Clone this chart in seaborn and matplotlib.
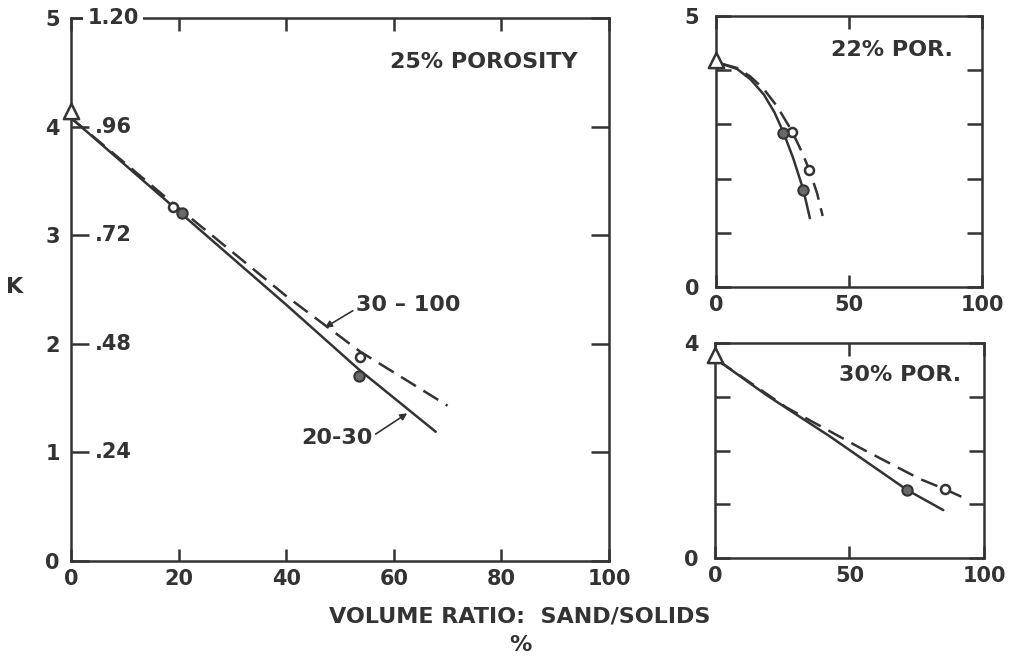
import matplotlib
matplotlib.use("Agg")
import matplotlib.pyplot as plt
import matplotlib.transforms as mtransforms
import seaborn as sns

# ---------------- data ----------------
# 25% porosity (main panel)
main_solid_x = [0, 20, 40, 53.6, 67.8]
main_solid_k = [4.08, 3.22, 2.36, 1.76, 1.19]
main_dash_x = [0, 20, 40, 53.7, 70]
main_dash_k = [4.08, 3.25, 2.44, 1.93, 1.43]
main_open_x = [19.0, 53.7]
main_open_k = [3.26, 1.88]
main_fill_x = [20.6, 53.6]
main_fill_k = [3.20, 1.70]
main_tri_x = [0]
main_tri_k = [4.14]

# 22% porosity (top right)
p22_solid_x = [2, 8, 13, 18, 22, 25.3, 29, 32.8, 35.3]
p22_solid_k = [4.12, 4.02, 3.83, 3.55, 3.22, 2.86, 2.38, 1.80, 1.27]
p22_dash_x = [2, 8, 13, 18, 23, 28.5, 32, 35.1, 38, 40.1]
p22_dash_k = [4.12, 4.04, 3.88, 3.65, 3.33, 2.88, 2.52, 2.16, 1.73, 1.31]
p22_open_x = [28.5, 35.1]
p22_open_k = [2.86, 2.16]
p22_fill_x = [25.3, 32.8]
p22_fill_k = [2.84, 1.79]
p22_tri_x = [0]
p22_tri_k = [4.19]

# 30% porosity (bottom right)
p30_solid_x = [1, 19.2, 42.8, 71.3, 84.9]
p30_solid_k = [3.68, 3.03, 2.26, 1.27, 0.89]
p30_dash_x = [1, 26.6, 54.3, 76.2, 85.5, 94.2]
p30_dash_k = [3.68, 2.80, 2.04, 1.47, 1.28, 1.08]
p30_open_x = [85.5]
p30_open_k = [1.28]
p30_fill_x = [71.3]
p30_fill_k = [1.27]
p30_tri_x = [0]
p30_tri_k = [3.78]

main_xticks = [0, 20, 40, 60, 80, 100]
main_yticks = [0, 1, 2, 3, 4, 5]
inner_ticks = [1, 2, 3, 4]
inner_labels = [".24", ".48", ".72", ".96"]
small_xticks = [0, 50, 100]

INK = "#333333"
FILL = "#6a6a6a"
LW = 1.8
DASH = (0, (7, 3.5))

sns.set_theme(style="white")
plt.rcParams["font.family"] = ["DejaVu Sans"]
plt.rcParams["font.weight"] = "bold"
plt.rcParams["text.color"] = INK
plt.rcParams["xtick.color"] = INK
plt.rcParams["ytick.color"] = INK

fig = plt.figure(figsize=(10.17, 6.57), dpi=100)
fig.patch.set_facecolor("white")

ax = fig.add_axes([0.0698, 0.1461, 0.529, 0.8265])
ax_tr = fig.add_axes([0.704, 0.5632, 0.2616, 0.4125])
ax_br = fig.add_axes([0.703, 0.1507, 0.2645, 0.3272])

FS = 15
FT = 16


def style_axes(a, xmax, ymax, yticks, ylabels, xticks, ylen, xlen):
    a.set_facecolor("white")
    a.set_xlim(0, xmax)
    a.set_ylim(0, ymax)
    for s in a.spines.values():
        s.set_visible(True)
        s.set_color(INK)
        s.set_linewidth(LW)
    a.set_xticks(xticks)
    a.set_xticklabels([str(v) for v in xticks], fontweight="bold")
    a.set_yticks(yticks)
    a.set_yticklabels(ylabels, fontweight="bold")
    a.tick_params(axis="x", direction="in", length=xlen, width=LW, top=True,
                  bottom=True, pad=6, labelsize=FS, colors=INK)
    a.tick_params(axis="y", direction="in", length=ylen, width=LW, left=True,
                  right=True, pad=8, labelsize=FS, colors=INK)
    a.set_xlabel("")
    a.set_ylabel("")
    a.grid(False)


def draw_panel(a, sx, sk, dx, dk, ox, ok, fx, fk, tx, tk):
    sns.lineplot(x=sx, y=sk, ax=a, sort=False, color=INK, linewidth=LW,
                 estimator=None, zorder=3)
    sns.lineplot(x=dx, y=dk, ax=a, sort=False, color=INK, linewidth=LW,
                 estimator=None, linestyle=DASH, zorder=3)
    sns.scatterplot(x=ox, y=ok, ax=a, marker="o", s=42, facecolor="white",
                    edgecolor=INK, linewidth=1.8, zorder=4)
    sns.scatterplot(x=fx, y=fk, ax=a, marker="o", s=55, facecolor=FILL,
                    edgecolor=INK, linewidth=1.5, zorder=4)
    sns.scatterplot(x=tx, y=tk, ax=a, marker="^", s=120, facecolor="white",
                    edgecolor=INK, linewidth=1.8, zorder=6, clip_on=False)


# ---------------- main panel ----------------
draw_panel(ax, main_solid_x, main_solid_k, main_dash_x, main_dash_k,
           main_open_x, main_open_k, main_fill_x, main_fill_k,
           main_tri_x, main_tri_k)
style_axes(ax, 100, 5, main_yticks, [str(v) for v in main_yticks],
           main_xticks, 13, 9)

blend = mtransforms.blended_transform_factory(ax.transAxes, ax.transData)
for v, lab in zip(inner_ticks, inner_labels):
    ax.text(0.044, v, lab, transform=blend, ha="left", va="center",
            fontsize=FS, color=INK)
ax.text(0.031, 5, "1.20", transform=blend, ha="left", va="center",
        fontsize=FS, color=INK, zorder=10, clip_on=False,
        bbox=dict(boxstyle="square,pad=0.2", facecolor="white",
                  edgecolor="none"))

ax.text(0.768, 0.919, "25% POROSITY", transform=ax.transAxes, ha="center",
        va="center", fontsize=FT, color=INK)

ax.annotate("30 – 100", xy=(47.2, 2.15), xytext=(53.0, 2.36),
            ha="left", va="center", fontsize=FT, color=INK,
            arrowprops=dict(arrowstyle="-|>", color=INK, lw=1.2,
                            mutation_scale=10, shrinkA=0, shrinkB=0,
                            relpos=(0.0, 0.3)))
ax.annotate("20-30", xy=(62.5, 1.36), xytext=(56.0, 1.13),
            ha="right", va="center", fontsize=FT, color=INK,
            arrowprops=dict(arrowstyle="-|>", color=INK, lw=1.2,
                            mutation_scale=10, shrinkA=0, shrinkB=0,
                            relpos=(1.0, 0.6)))

# ---------------- 22% porosity ----------------
draw_panel(ax_tr, p22_solid_x, p22_solid_k, p22_dash_x, p22_dash_k,
           p22_open_x, p22_open_k, p22_fill_x, p22_fill_k,
           p22_tri_x, p22_tri_k)
style_axes(ax_tr, 100, 5, [0, 1, 2, 3, 4, 5], ["0", "", "", "", "", "5"],
           small_xticks, 11, 9)
ax_tr.tick_params(axis="y", pad=12)
ax_tr.text(0.662, 0.875, "22% POR.", transform=ax_tr.transAxes,
           ha="center", va="center", fontsize=FT, color=INK)

# ---------------- 30% porosity ----------------
draw_panel(ax_br, p30_solid_x, p30_solid_k, p30_dash_x, p30_dash_k,
           p30_open_x, p30_open_k, p30_fill_x, p30_fill_k,
           p30_tri_x, p30_tri_k)
style_axes(ax_br, 100, 4, [0, 1, 2, 3, 4], ["0", "", "", "", "4"],
           small_xticks, 11, 9)
ax_br.tick_params(axis="y", pad=12)
ax_br.text(0.688, 0.851, "30% POR.", transform=ax_br.transAxes,
           ha="center", va="center", fontsize=FT, color=INK)

# ---------------- figure labels ----------------
fig.text(15 / 1017, 1 - 287 / 657, "K", ha="center", va="center",
         fontsize=FT, color=INK)
fig.text(520 / 1017, 1 - 617 / 657, "VOLUME RATIO:  SAND/SOLIDS",
         ha="center", va="center", fontsize=FT, color=INK)
fig.text(520 / 1017, 1 - 645 / 657, "%", ha="center", va="center",
         fontsize=FT, color=INK)

fig.savefig("out.png", dpi=100, facecolor="white")
